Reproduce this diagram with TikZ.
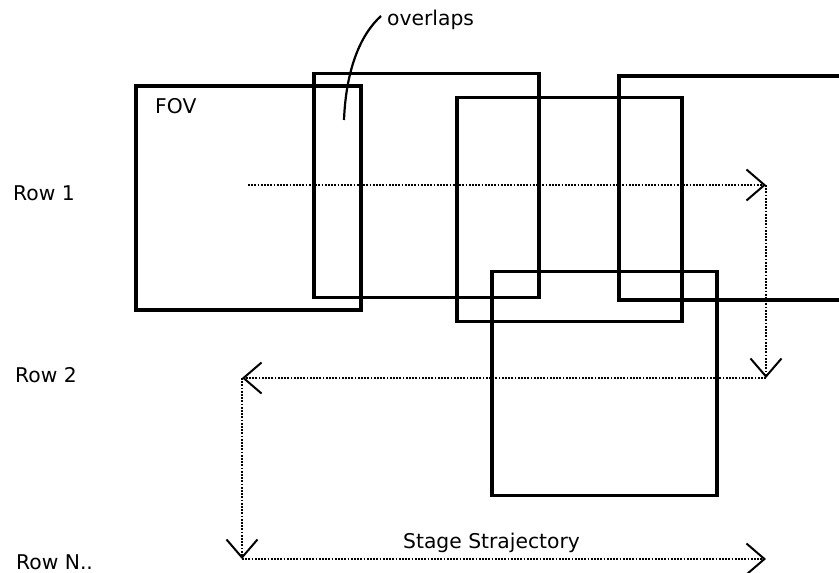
\documentclass[tikz,border=0pt]{standalone}
\usepackage{fontspec}
\setmainfont{DejaVu Sans}
\usetikzlibrary{arrows.meta}
\tikzset{
  fovbox/.style={draw=black, line width=3.2pt, minimum width=225pt, minimum height=224pt, inner sep=0pt, outer sep=0pt},
  lbl/.style={font=\fontsize{20.3}{24}\selectfont, inner sep=0pt, anchor=base west},
  traj/.style={line width=2.3pt, dash pattern=on 1.8pt off 1.4pt,
    -{Straight Barb[length=18pt,width=31pt,line width=2pt]}},
  leader/.style={line width=2.2pt}
}
\begin{document}
\begin{tikzpicture}[x=1pt,y=-1pt]
\useasboundingbox (0,0) rectangle (839,573);
\begin{scope}
\clip (0,0) rectangle (839,573);
\node[fovbox] (r1) at (248.5,198) {};
\node[fovbox] (r2) at (426.5,185.5) {};
\node[fovbox] (r3) at (569.5,209.5) {};
\node[fovbox] (r4) at (731.5,188) {};
\node[fovbox] (r5) at (604.5,383.5) {};
\end{scope}
\node[lbl] (fov) at (155,113) {FOV};
\node[lbl] (ovl) at (387,25) {overlaps};
\coordinate (ovlend) at (344,120);
\draw[leader] (ovlend) .. controls (346,70) and (360,35) .. (381,16);
\node[lbl] (row1) at (13,200) {Row 1};
\node[lbl] (row2) at (15,382) {Row 2};
\node[lbl] (rowN) at (16,569) {Row N..};
\node[lbl] (stage) at (403,548) {Stage Strajectory};
\coordinate (s) at (248,185);
\coordinate (a) at (766,185);
\coordinate (b) at (766,378);
\coordinate (c) at (242,378);
\coordinate (d) at (242,559);
\coordinate (e) at (766,559);
\draw[traj] (s) -- (a);
\draw[traj] (a) -- (b);
\draw[traj] (b) -- (c);
\draw[traj] (c) -- (d);
\draw[traj] (d) -- (e);
\end{tikzpicture}
\end{document}
